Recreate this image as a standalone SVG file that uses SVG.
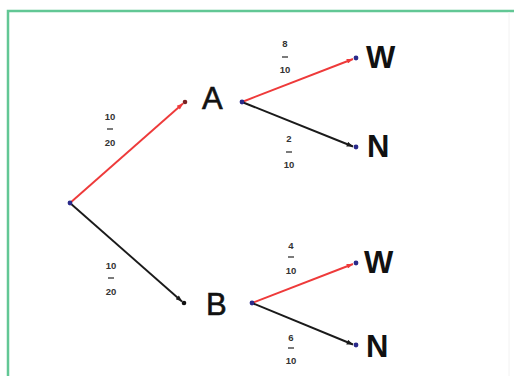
<svg xmlns="http://www.w3.org/2000/svg" width="514" height="376" viewBox="0 0 514 376">
<defs>
<style>
.frame{fill:none;stroke:#62c795;stroke-width:2.5}
.red{stroke:#ee3a3a;stroke-width:1.9;fill:none}
.blk{stroke:#1a1a1a;stroke-width:1.9;fill:none}
.pt{fill:#2a2a8a}
.big{font-family:"Liberation Sans",Arial,sans-serif;font-size:31px;fill:#111}
.bold{font-weight:bold}
.fr{font-family:"Liberation Sans",Arial,sans-serif;font-size:9.5px;font-weight:bold;fill:#333;text-anchor:middle}
.bar{stroke:#333;stroke-width:1.3}
</style>
<marker id="ar" viewBox="0 0 10 8" refX="10" refY="4" markerWidth="8" markerHeight="5" orient="auto" markerUnits="userSpaceOnUse">
<path d="M0,0 L10,4 L0,8 Z" fill="#ee3a3a"/>
</marker>
<marker id="ak" viewBox="0 0 10 8" refX="10" refY="4" markerWidth="8" markerHeight="5" orient="auto" markerUnits="userSpaceOnUse">
<path d="M0,0 L10,4 L0,8 Z" fill="#1a1a1a"/>
</marker>
</defs>
<rect width="514" height="376" fill="#ffffff"/>
<path class="frame" d="M8,376 V11 H514"/>
<line x1="509" y1="12" x2="509" y2="376" stroke="#f2f2f2" stroke-width="1"/>
<g id="connectors">
<line class="red" x1="70" y1="203" x2="183" y2="103.5" marker-end="url(#ar)"/>
<line class="blk" x1="70" y1="203" x2="182" y2="301.5" marker-end="url(#ak)"/>
<line class="red" x1="242" y1="102" x2="353" y2="59" marker-end="url(#ar)"/>
<line class="blk" x1="242" y1="102" x2="353" y2="146.5" marker-end="url(#ak)"/>
<line class="red" x1="252" y1="303" x2="353" y2="264" marker-end="url(#ar)"/>
<line class="blk" x1="252" y1="303" x2="353" y2="344.5" marker-end="url(#ak)"/>
</g>
<g id="root"><circle class="pt" cx="70" cy="203" r="2.4"/></g>
<g id="A">
<circle cx="185" cy="102" r="2.3" fill="#7a2222"/>
<circle class="pt" cx="242" cy="102" r="2.4"/>
<text class="big" x="202" y="109" stroke="#111" stroke-width="0.6">A</text>
</g>
<g id="B">
<circle cx="184" cy="303" r="2.3" fill="#111"/>
<circle class="pt" cx="252" cy="303" r="2.4"/>
<text class="big" x="206" y="315" stroke="#111" stroke-width="0.6">B</text>
</g>
<g id="AW"><circle class="pt" cx="356" cy="58" r="2.4"/><text class="big bold" x="366" y="68">W</text></g>
<g id="AN"><circle class="pt" cx="356" cy="147" r="2.4"/><text class="big bold" x="367" y="157">N</text></g>
<g id="BW"><circle class="pt" cx="356" cy="263" r="2.4"/><text class="big bold" x="364" y="273">W</text></g>
<g id="BN"><circle class="pt" cx="356" cy="345" r="2.4"/><text class="big bold" x="366" y="357">N</text></g>
<g id="labels">
<text class="fr" x="110" y="120">10</text><line class="bar" x1="107" y1="129" x2="113" y2="129"/><text class="fr" x="110" y="146">20</text>
<text class="fr" x="111" y="269">10</text><line class="bar" x1="108" y1="278" x2="114" y2="278"/><text class="fr" x="111" y="295">20</text>
<text class="fr" x="285" y="47">8</text><line class="bar" x1="282" y1="57" x2="288" y2="57"/><text class="fr" x="285" y="73">10</text>
<text class="fr" x="289" y="142">2</text><line class="bar" x1="286" y1="152" x2="292" y2="152"/><text class="fr" x="289" y="168">10</text>
<text class="fr" x="291" y="249">4</text><line class="bar" x1="288" y1="257" x2="294" y2="257"/><text class="fr" x="291" y="274">10</text>
<text class="fr" x="291" y="341">6</text><line class="bar" x1="288" y1="348" x2="294" y2="348"/><text class="fr" x="291" y="364">10</text>
</g>
</svg>
